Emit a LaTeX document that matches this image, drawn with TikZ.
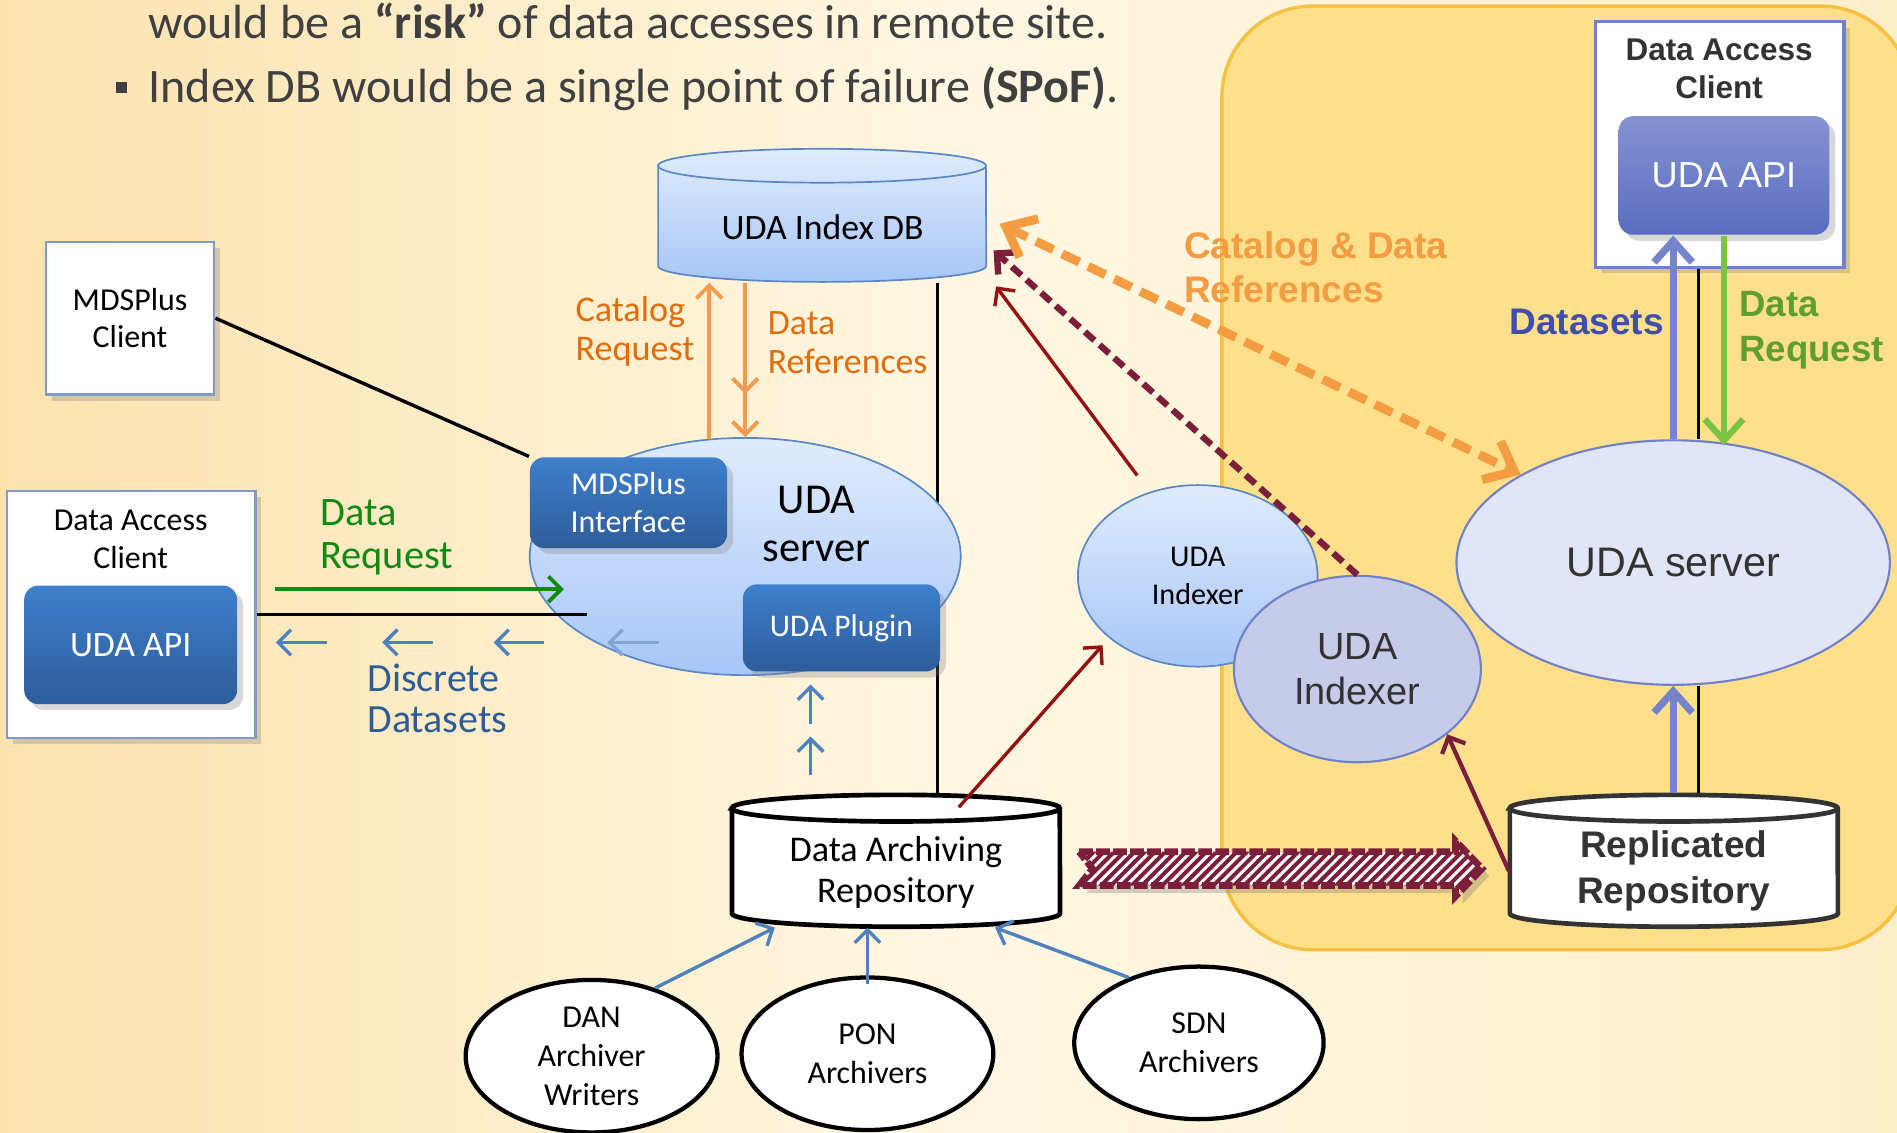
\documentclass[tikz,border=0pt]{standalone}
\usepackage{fontspec}
\setmainfont{Carlito}
\newfontfamily\arialf{Liberation Sans}
\usetikzlibrary{positioning,shapes.geometric,arrows.meta,decorations.markings,patterns.meta,shadows}
\definecolor{bgl}{HTML}{FCE3AE}
\definecolor{bgm}{HTML}{FFF7E3}
\definecolor{bgr}{HTML}{FEEFCB}
\definecolor{panel}{HTML}{FEDF8B}
\definecolor{panelline}{HTML}{F6C040}
\definecolor{txtgray}{HTML}{404040}
\definecolor{darktxt}{HTML}{333333}
\definecolor{boxline}{HTML}{7F9CC9}
\definecolor{apitop}{HTML}{3F7FCC}
\definecolor{apibot}{HTML}{2D5C9A}
\definecolor{lbtop}{HTML}{E0ECFE}
\definecolor{lbbot}{HTML}{A7C6F7}
\definecolor{lbline}{HTML}{5A88C6}
\definecolor{orangetxt}{HTML}{E36C0A}
\definecolor{orangearr}{HTML}{F29A4E}
\definecolor{catref}{HTML}{F39C42}
\definecolor{dgreen}{HTML}{128A12}
\definecolor{lgreen}{HTML}{7CC243}
\definecolor{lgreentxt}{HTML}{5E9F2F}
\definecolor{flowblue}{HTML}{4F81BD}
\definecolor{dstxt}{HTML}{2E5C99}
\definecolor{dred}{HTML}{951010}
\definecolor{wine}{HTML}{7A1E3A}
\definecolor{peri}{HTML}{7485CB}
\definecolor{peritxt}{HTML}{3F4FAA}
\definecolor{rsrvfill}{HTML}{E2E5F5}
\definecolor{ridxfill}{HTML}{C5CBE8}
\definecolor{rline}{HTML}{6F82C9}
\definecolor{rapitop}{HTML}{8593D3}
\definecolor{rapibot}{HTML}{5A6CBE}
\tikzset{fs/.style 2 args={font=\fontsize{#1}{#2}\selectfont},
	 afs/.style 2 args={font=\arialf\fontsize{#1}{#2}\selectfont},
	 abf/.style 2 args={font=\arialf\bfseries\fontsize{#1}{#2}\selectfont},
	 dshadow/.style={drop shadow={opacity=0.3,shadow xshift=0.5mm,shadow yshift=-0.5mm}},
	 slide/.style={anchor=west,inner sep=0pt,text=txtgray,fs={11.3}{13}},
	 cbox/.style={draw=boxline,fill=white,line width=0.6pt,inner sep=0pt,dshadow},
	 apibox/.style={rounded corners=0.12cm,top color=apitop,bottom color=apibot,text=white,inner sep=0pt,dshadow},
	 srvell/.style={ellipse,draw=lbline,top color=lbtop,bottom color=lbbot,inner sep=0pt,align=center},
	 rell/.style={ellipse,draw=rline,line width=0.5pt,inner sep=0pt,align=center,text=darktxt},
	 arch/.style={ellipse,draw,fill=white,line width=1pt,inner sep=0pt,align=center,fs={7.5}{9.2}},
	 cyltxt/.style={inner sep=0pt,minimum width=2.71cm,minimum height=0.9cm,align=center},
	 lbl/.style={anchor=west,inner sep=0pt,align=left},
	 arr/.style={-{Straight Barb[length=3pt,width=6pt]}},
	 bigarr/.style={-{Straight Barb[length=5pt,width=9pt]}},
	 wire/.style={draw=black,line width=0.8pt},
	 flow/.style={draw=flowblue,line width=0.8pt,arr},
	 cat/.style={draw=orangearr,line width=0.9pt,arr},
	 redarr/.style={draw=dred,line width=0.8pt,arr},
	 hatch/.style={draw=wine,line width=1.6pt,dash pattern=on 3.2pt off 0.8pt,drop shadow={opacity=0.35,shadow xshift=0.6mm,shadow yshift=-0.6mm},
	   preaction={fill=wine},pattern={Lines[angle=45,distance=1.7pt,line width=0.7pt]},pattern color=white}
	 }

\begin{document}
\begin{tikzpicture}[x=0.01cm,y=-0.01cm] % UDA index DB with replicated remote site
	\shade[left color=bgl, right color=bgr, middle color=bgm] (0,0) rectangle (1568,936);
	\useasboundingbox (0,0) rectangle (1568,936);
	\draw[draw=panelline, fill=panel, line width=0.8pt, rounded corners=0.75cm] (1010,5) rectangle (1580,785);
	\fill[txtgray] (96,68) rectangle (105,77);
	\node[slide] (risk) at (122,17) {would be a \textbf{“risk”} of data accesses in remote site.};
	\node[slide] (spof) at (122,73) {Index DB would be a single point of failure \textbf{(SPoF)}.};

	% databases
	\path[draw=lbline, top color=lbtop, bottom color=lbbot] (544,137) -- (544,220) arc[start angle=180, end angle=360, x radius=1.355cm, y radius=0.13cm] -- (815,137) arc[start angle=0, end angle=180, x radius=1.355cm, y radius=0.14cm] -- cycle;
	\draw[lbline] (544,137) arc[start angle=180, end angle=360, x radius=1.355cm, y radius=0.14cm];
	\node[cyltxt, fs={8.4}{10}] (idxdb) at (680,188) {UDA Index DB};
	\path[draw, fill=white, line width=1.1pt] (605,668) -- (605,755) arc[start angle=180, end angle=360, x radius=1.355cm, y radius=0.11cm] -- (876,668) arc[start angle=0, end angle=180, x radius=1.355cm, y radius=0.11cm] -- cycle;
	\draw[line width=1.1pt] (605,668) arc[start angle=180, end angle=360, x radius=1.355cm, y radius=0.11cm];
	\node[cyltxt, fs={8.5}{9.7}] (darep) at (740.5,721) {Data Archiving\\Repository};
	\path[draw=darktxt, fill=white, line width=1.1pt] (1248,668) -- (1248,755) arc[start angle=180, end angle=360, x radius=1.355cm, y radius=0.11cm] -- (1519,668) arc[start angle=0, end angle=180, x radius=1.355cm, y radius=0.11cm] -- cycle;
	\draw[darktxt, line width=1.1pt] (1248,668) arc[start angle=180, end angle=360, x radius=1.355cm, y radius=0.11cm];
	\node[cyltxt, abf={8.7}{10.8}, text=darktxt] (rrep) at (1383.5,720) {Replicated\\Repository};
	\draw[wire] (775,0 |- idxdb.south) -- ([yshift=0.19cm]775,0 |- darep.north);

	% local site
	\node[srvell, minimum width=3.56cm, minimum height=1.96cm] (srv) at (616,460) {};
	\node[fs={10}{11.4}, align=center, inner sep=0pt] (srvtxt) at (675,433) {UDA\\server};
	\node[apibox, minimum width=1.63cm, minimum height=0.75cm, align=center, fs={7.5}{8.8}] (mdsi) at (519.5,415.5) {MDSPlus\\Interface};
	\node[apibox, minimum width=1.63cm, minimum height=0.72cm, fs={7.4}{8.8}] (plug) at (695.5,519) {UDA Plugin};
	\node[cbox, minimum width=1.39cm, minimum height=1.26cm, align=center, fs={7.5}{8.8}] (mdsc) at (107.5,263) {MDSPlus\\Client};
	\node[cbox, minimum width=2.05cm, minimum height=2.04cm] (dacl) at (108.5,508) {};
	\node[fs={7.5}{8.8}, align=center, inner sep=0pt] (dacltxt) at (108,446) {Data Access\\Client};
	\node[apibox, minimum width=1.76cm, minimum height=0.98cm, fs={8.4}{10}] (apil) at (108,533) {UDA API};
	\node[srvell, minimum width=1.98cm, minimum height=1.5cm, fs={7.1}{9.1}] (idxl) at (990,476) {UDA\\Indexer};
	\node[arch, minimum width=2.08cm, minimum height=1.26cm] (dan) at (489,873) {DAN\\Archiver\\Writers};
	\node[arch, minimum width=2.08cm, minimum height=1.26cm] (pon) at (717,871) {PON\\Archivers};
	\node[arch, minimum width=2.06cm, minimum height=1.26cm] (sdn) at (991,862) {SDN\\Archivers};

	% remote site
	\node[rell, fill=ridxfill, minimum width=2.04cm, minimum height=1.54cm, afs={8.9}{10.5}] (idxr) at (1122,553) {UDA\\Indexer};
	\node[rell, fill=rsrvfill, minimum width=3.58cm, minimum height=2.02cm, afs={9.7}{11}] (rsrv) at (1383,465) {UDA server};
	\node[cbox, draw=rline, line width=0.8pt, minimum width=2.05cm, minimum height=2.03cm] (rdacl) at (1421.5,119.5) {};
	\node[abf={7.4}{9.1}, align=center, inner sep=0pt, text=darktxt] (rdacltxt) at (1421,57) {Data Access\\Client};
	\node[apibox, top color=rapitop, bottom color=rapibot, minimum width=1.74cm, minimum height=0.98cm, afs={8.5}{10}] (rapi) at (1425,145) {UDA API};

	% local connectors
	\draw[wire] (mdsc.east) -- (mdsi.north west);
	\draw[wire] (dacl.east) -- (dacl.east -| 485,0);
	\draw[dgreen, line width=0.9pt, arr] ([shift={(15,-21)}]dacl.east) -- ++(239,0);
	\draw[flow] (270,531) -- ++(-42,0);
	\draw[flow] (358,531) -- ++(-42,0);
	\draw[flow] (450,531) -- ++(-42,0);
	\draw[flow, draw=flowblue!70] (545,531) -- ++(-43,0);
	\draw[cat] (srv.107) -- (srv.107 |- idxdb.south);
	\draw[cat, decoration={markings, mark=at position 0.72 with {\arrow{Straight Barb[length=3pt,width=6pt]}}}, postaction={decorate}] (srv.north |- idxdb.south) -- (srv.north);
	\draw[flow] ([xshift=-0.255cm,yshift=-0.85cm]plug.south) -- ++(0,-32);
	\draw[flow] ([xshift=-0.255cm,yshift=-0.43cm]plug.south) -- ++(0,-33);
	\draw[flow] (dan.47) -- ([xshift=-1cm]darep.south);
	\draw[flow, shorten <=-0.07cm] (pon.north) -- (pon.north |- darep.south);
	\draw[flow] (sdn.137) -- ([xshift=0.82cm]darep.south);
	\draw[redarr] ([shift={(-50,-83)}]idxl.center) -- ([xshift=0.07cm,yshift=-0.03cm]idxdb.south east);
	\draw[redarr, shorten >=0.08cm] ([shift={(52,-8)}]darep.north) -- (idxl.215);

	% replication
	\path[hatch] (892,704) -- (1203,704) -- (1203,695) -- (1225,718) -- (1203,741) -- (1203,732) -- (892,732) -- (903,718) -- cycle;
	\draw[wine, line width=1pt, arr] (rrep.west) -- (idxr.-36);
	\draw[wine, line width=1.5pt, dash pattern=on 3pt off 1.6pt, -{Straight Barb[length=3.5pt,width=7pt]}] (idxr.north) -- ([xshift=0.05cm,yshift=-0.19cm]idxdb.east);
	\draw[peri, line width=1.7pt, bigarr] (rsrv.north) -- (rsrv.north |- rapi.south);
	\draw[line width=0.8pt] (1404,0 |- rdacl.south) -- (1404,0 |- rsrv.north);
	\draw[lgreen, line width=1.5pt, bigarr, shorten >=-0.05cm] (rapi.south) -- (rapi.south |- rsrv.north);
	\draw[peri, line width=1.7pt, bigarr] ([yshift=0.19cm]rsrv.south |- rrep.north) -- (rsrv.south);
	\draw[line width=0.8pt] ([yshift=0.19cm]1404,0 |- rrep.north) -- (1404,0 |- rsrv.south);
	\draw[catref, line width=2.1pt, dash pattern=on 4.5pt off 2.3pt, {Straight Barb[length=6pt,width=10pt]}-{Straight Barb[length=6pt,width=10pt]}] ([xshift=0.1cm,yshift=0.03cm]idxdb.east) -- (rsrv.150);

	% labels
	\node[lbl, text=orangetxt, fs={8.5}{9.1}] (catreq) at (475,274) {Catalog\\Request};
	\node[lbl, text=orangetxt, fs={8.4}{9.1}] (dataref) at (634,283) {Data\\References};
	\node[lbl, text=dgreen, fs={9.5}{10}] (dreq) at (264,444) {Data\\Request};
	\node[lbl, text=dstxt, fs={9.4}{9.7}] (discr) at (303,577) {Discrete\\Datasets};
	\node[lbl, text=catref, abf={8.7}{10.2}] (catdat) at (978,221) {Catalog \& Data\\References};
	\node[lbl, anchor=east, text=peritxt, abf={8.7}{10.2}] (dsets) at (1376,266) {Datasets};
	\node[lbl, text=lgreentxt, abf={8.6}{10.5}] (rdreq) at (1437,273) {Data\\Request};
\end{tikzpicture}
\end{document}
